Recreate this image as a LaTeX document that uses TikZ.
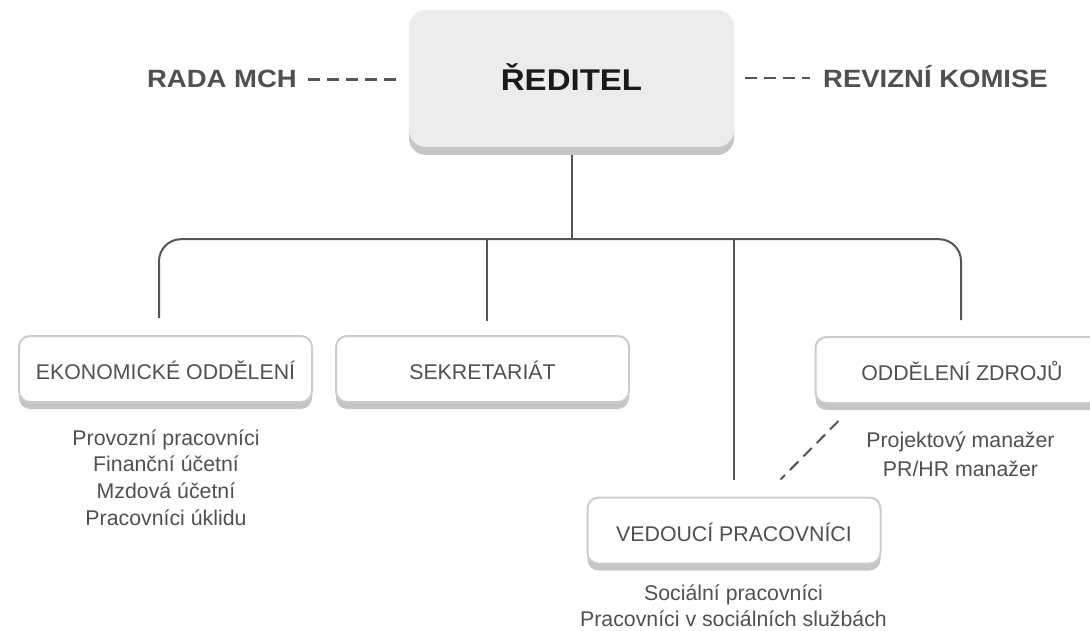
\documentclass[tikz,border=0pt]{standalone}
\usepackage{fontspec}
\setmainfont{Liberation Sans}
\newfontfamily\hdfont{Liberation Sans}[FakeStretch=1.1]
\usetikzlibrary{calc}
\definecolor{txt}{HTML}{505050}
\definecolor{dark}{HTML}{1A1A1A}
\definecolor{linec}{HTML}{555555}
\definecolor{boxborder}{HTML}{CCCCCC}
\definecolor{shadowc}{HTML}{C6C6C6}
\definecolor{redfill}{HTML}{ECECEC}
\begin{document}
\begin{tikzpicture}[x=1pt,y=-1pt,
  conn/.style={draw=linec, line width=2pt},
  dconn/.style={draw=linec, line width=2pt, dash pattern=on 12pt off 7pt},
  hdash/.style={draw=linec, line width=2.5pt, dash pattern=on 12pt off 7pt},
  unitbox/.style={draw=boxborder, line width=2pt, fill=white, rounded corners=11pt,
    minimum width=293pt, minimum height=66pt, text height=21pt, text depth=0pt,
    inner sep=0pt, font=\fontsize{21.3}{24}\selectfont, text=txt,
    preaction={fill=shadowc, transform canvas={yshift=-7pt}}},
  headbox/.style={draw=none, fill=redfill, rounded corners=17pt,
    minimum width=325pt, minimum height=137pt, text height=24.4pt, text depth=0pt,
    inner sep=0pt, text=dark,
    font=\hdfont\bfseries\fontsize{30}{34}\selectfont,
    preaction={fill=shadowc, transform canvas={yshift=-8pt}}},
  hd/.style={inner sep=0pt, text=txt, font=\hdfont\bfseries\fontsize{25}{30}\selectfont},
  list/.style={inner sep=0pt, text=txt, align=center, anchor=north},
]
\useasboundingbox (0,0) rectangle (1090,631);

% boxes
\node[headbox] (red) at (571.5,78.5) {ŘEDITEL};
\node[unitbox] (ek)  at (165.5,369) {EKONOMICKÉ ODDĚLENÍ};
\node[unitbox] (sek) at (482.5,369) {SEKRETARIÁT};
\node[unitbox] (zd)  at (962,370)   {ODDĚLENÍ ZDROJŮ};
\node[unitbox] (ved) at (734,530.5) {VEDOUCÍ PRACOVNÍCI};

% side labels
\node[hd, anchor=base east] (rada) at (297,88) {RADA MCH};
\node[hd, anchor=base west] (rev)  at (823,88) {REVIZNÍ KOMISE};
\draw[hdash] ($(rada.east)+(11,0)$) -- ($(rada.east)+(100,0)$);
\draw[hdash] ($(rev.base west)+(-78,-10)$) -- ($(rev.base west)+(-13,-10)$);

% lists
\node[list, font=\fontsize{21.3}{26.7}\selectfont] (eklist) at (166,425)
  {\rule{0pt}{20pt}Provozní pracovníci\\Finanční účetní\\Mzdová účetní\\Pracovníci úklidu};
\node[list, font=\fontsize{21.3}{29}\selectfont] (zdlist) at (960.5,427)
  {\rule{0pt}{20pt}Projektový manažer\\PR/HR manažer};
\node[list, font=\fontsize{21.3}{26}\selectfont] (vedlist) at (733.5,580.7)
  {\rule{0pt}{20pt}Sociální pracovníci\\Pracovníci v sociálních službách};

% connectors
\coordinate (bus) at ($(red.south)+(0,92)$);
\draw[conn] ($(red.south)+(0,8)$) -- (bus);
\draw[conn, rounded corners=22pt] ($(ek.north)+(-6.5,-17)$) |- (bus) -| ($(zd.north)+(-1,-16)$);
\draw[conn] ($(sek.north)+(4.5,-14)$) coordinate (s1) -- (s1 |- bus);
\draw[conn] ($(ved.north)+(0,-17)$) coordinate (v1) -- (v1 |- bus);
\draw[dconn] ($(zd.south west)+(24,17)$) -- ($(ved.north east)+(-101,-17)$);
\end{tikzpicture}
\end{document}
